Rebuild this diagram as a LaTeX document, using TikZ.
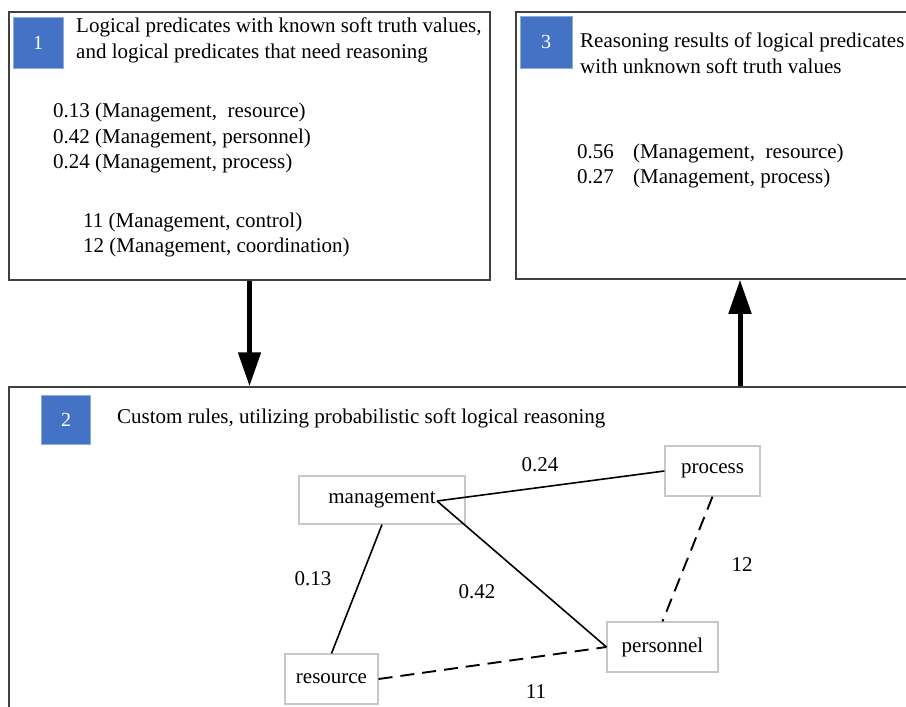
\documentclass[tikz,border=0pt]{standalone}
\usepackage{fontspec}
\setmainfont{Liberation Serif}
\usetikzlibrary{arrows.meta}
\definecolor{boxblue}{HTML}{4472C4}
\begin{document}
\begin{tikzpicture}[x=1pt,y=-1pt,
  frame/.style={draw=black!75, line width=1.5pt, inner sep=0},
  numbox/.style={fill=boxblue, draw=boxblue!60, line width=0.8pt, text=white, inner sep=0, font=\rmfamily\fontsize{20}{24}\selectfont},
  txt/.style={anchor=base west, inner sep=0, font=\rmfamily\fontsize{21}{24}\selectfont},
  lbl/.style={inner sep=0, font=\rmfamily\fontsize{21}{24}\selectfont},
  gnode/.style={draw=black!22, line width=1.2pt, inner sep=0, font=\rmfamily\fontsize{21}{24}\selectfont},
  bigarrow/.style={line width=5pt, -{Triangle[width=22pt,length=34pt]}},
  solidedge/.style={line width=1.6pt},
  dashedge/.style={line width=1.9pt, dash pattern=on 14pt off 8pt}]
\useasboundingbox (0,0) rectangle (906,707);
\clip (0,0) rectangle (906,707);
\fill[white] (0,0) rectangle (906,707);
% frames
\node[frame, minimum width=481pt, minimum height=268pt] (b1) at (249.5,146) {};
\node[frame, minimum width=450pt, minimum height=267pt] (b3) at (741,145.5) {};
\node[frame, minimum width=960pt, minimum height=380pt] (b2) at (489,577) {};
% number squares
\node[numbox, minimum width=50pt, minimum height=51pt] (n1) at (38,42.5) {1};
\node[numbox, minimum width=52pt, minimum height=52pt] (n3) at (546,42) {3};
\node[numbox, minimum width=49pt, minimum height=49pt] (n2) at (66,419.5) {2};
% box 1 text
\node[txt] (t1a) at (76,32) {Logical predicates with known soft truth values,};
\node[txt] (t1b) at (76,58) {and logical predicates that need reasoning};
\node[txt] (t1c) at (53,117) {0.13 (Management,\ \ resource)};
\node[txt] (t1d) at (53,143) {0.42 (Management, personnel)};
\node[txt] (t1e) at (53,168) {0.24 (Management, process)};
\node[txt] (t1f) at (83,227) {11 (Management, control)};
\node[txt] (t1g) at (83,252) {12 (Management, coordination)};
% box 3 text
\node[txt] (t3a) at (580,47) {Reasoning results of logical predicates};
\node[txt] (t3b) at (580,73) {with unknown soft truth values};
\node[txt] (t3c) at (577,158) {0.56};
\node[txt] (t3d) at (633,158) {(Management,\ \ resource)};
\node[txt] (t3e) at (577,183) {0.27};
\node[txt] (t3f) at (633,183) {(Management, process)};
% box 2 text
\node[txt] (t2a) at (117,423) {Custom rules, utilizing probabilistic soft logical reasoning};
% graph nodes
\node[gnode, minimum width=166pt, minimum height=48pt] (mgmt) at (382,500) {management};
\node[gnode, minimum width=95pt, minimum height=50pt] (proc) at (712.5,471) {process};
\node[gnode, minimum width=111pt, minimum height=50pt] (pers) at (662.5,647) {personnel};
\node[gnode, minimum width=93pt, minimum height=50pt] (res) at (331.5,679) {resource};
\coordinate (mR) at (437,501);
% edges
\draw[solidedge] (mR) -- (proc.west);
\draw[solidedge] (mR) -- (pers.west);
\draw[solidedge] (mgmt.south) -- (res.north);
\draw[dashedge] (proc.south) -- (pers.north);
\draw[dashedge] (res.east) -- (pers.west);
% edge labels
\node[lbl] (l024) at (540,465) {0.24};
\node[lbl] (l013) at (313,579) {0.13};
\node[lbl] (l042) at (477,592) {0.42};
\node[lbl] (l12) at (742,565) {12};
\node[lbl] (l11) at (536,692) {11};
% arrows
\coordinate (upx) at (740,330);
\draw[bigarrow] (b1.south) -- (b2.north -| b1.south);
\draw[bigarrow] (b2.north -| upx) -- (b3.south -| upx);
\end{tikzpicture}
\end{document}
